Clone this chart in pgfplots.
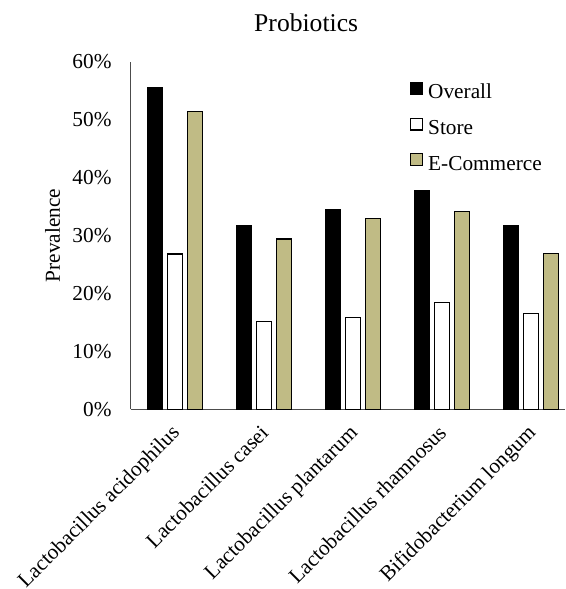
\documentclass[border=0pt]{standalone}
\usepackage{fontspec}
\setmainfont{Liberation Serif}
\usepackage{pgfplots}
\pgfplotsset{compat=1.18}
\definecolor{khaki}{RGB}{192,187,133}
\newcommand{\lblfont}{\fontsize{21.3}{25}\selectfont}
\pgfplotsset{sqlegend/.style={legend image code/.code={\draw[##1, line width=1.2pt] (0.6pt,-1.7pt) rectangle (12.4pt,10.1pt);}}}
\begin{document}
\begin{tikzpicture}
\begin{axis}[
  scale only axis, width=434.3pt, height=347.6pt,
  ybar=4.8pt, bar width=15pt,
  xmin=-0.5, xmax=4.38, ymin=0, ymax=60,
  enlargelimits=false,
  axis x line*=bottom, axis y line*=left,
  axis line style={draw=black!70, line width=1.2pt},
  major tick length=0pt,
  /pgf/number format/assume math mode=true,
  xtick={0,1,2,3,4},
  xticklabels={Lactobacillus acidophilus, Lactobacillus casei, Lactobacillus plantarum, Lactobacillus rhamnosus, Bifidobacterium longum},
  ytick={0,10,20,30,40,50,60},
  yticklabels={0\%,10\%,20\%,30\%,40\%,50\%,60\%},
  tick label style={font=\lblfont},
  yticklabel style={anchor=east, inner sep=0pt, xshift=-19pt},
  xticklabel style={inner sep=0pt, anchor=base east, xshift=5.5pt, yshift=-24.7pt, rotate=45},
  ylabel={Prevalence},
  ylabel style={at={(axis description cs:-0.18,0.5)}, anchor=center, font=\lblfont},
  title={Probiotics},
  title style={at={(axis description cs:0.404,1)}, anchor=base, yshift=23.7pt, font=\fontsize{25.6}{30}\selectfont},
  legend style={at={(axis description cs:0.6431,0.9425)}, anchor=north west, draw=none, fill=none, inner sep=0pt, row sep=16.3pt, column sep=5pt, font=\lblfont, nodes={inner sep=0pt, text height=15pt, text depth=2.3pt}},
  legend cell align=left,
]
\addplot[fill=black, draw=black, line width=1.2pt, sqlegend] coordinates {(0,55.6) (1,31.7) (2,34.4) (3,37.8) (4,31.7)};
\addplot[fill=white, draw=black, line width=1.2pt, sqlegend] coordinates {(0,26.8) (1,15.1) (2,15.8) (3,18.5) (4,16.5)};
\addplot[fill=khaki, draw=black, line width=1.2pt, sqlegend] coordinates {(0,51.4) (1,29.4) (2,33.0) (3,34.2) (4,26.9)};
\legend{Overall, Store, E-Commerce}
\end{axis}
\pgfresetboundingbox
\useasboundingbox (-130.7pt,-179.7pt) rectangle (434.3pt,409.3pt);
\end{tikzpicture}
\end{document}
